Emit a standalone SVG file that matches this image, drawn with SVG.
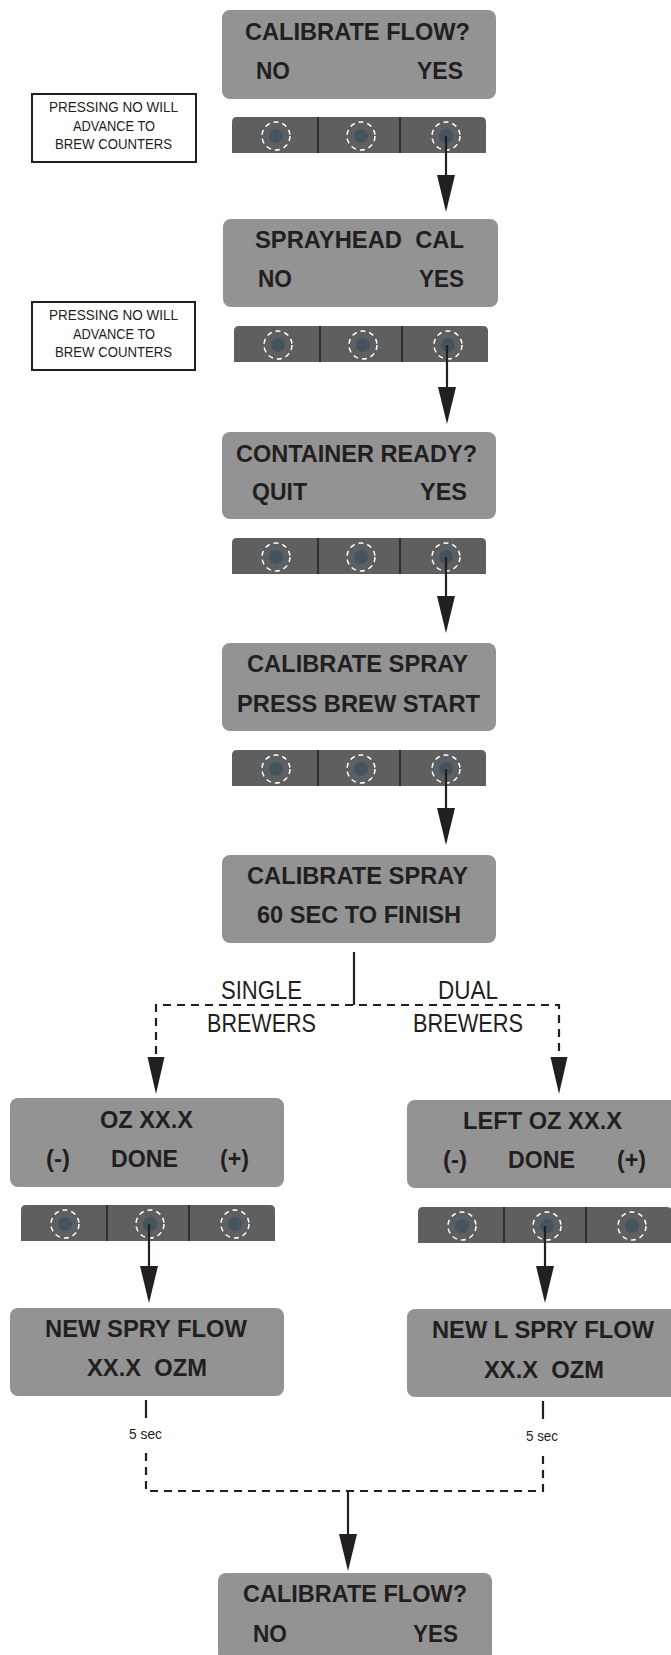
<svg xmlns="http://www.w3.org/2000/svg" width="671" height="1655" viewBox="0 0 671 1655">
<style>
.box{fill:#939393;}
.bar{fill:#5e5f61;}
.div{stroke:#1e1e1e;stroke-width:1.5;}
.ring{fill:none;stroke:#ffffff;stroke-width:1.5;stroke-dasharray:5 4;}
.dot{fill:#44545f;}
.t{font-family:"Liberation Sans",Arial,sans-serif;font-weight:bold;font-size:23px;fill:#231f20;white-space:pre;}
.c{font-family:"Liberation Sans",Arial,sans-serif;font-size:15px;fill:#231f20;}
.lbl{font-family:"Liberation Sans",Arial,sans-serif;font-size:26px;fill:#231f20;}
.note{fill:#ffffff;stroke:#231f20;stroke-width:2;}
.ln{fill:none;stroke:#231f20;stroke-width:2.2;}
.dash{fill:none;stroke:#231f20;stroke-width:2.2;stroke-dasharray:8 6;}
</style>
<defs>
<marker id="ah" markerUnits="userSpaceOnUse" markerWidth="38" markerHeight="18" refX="33" refY="9" orient="auto" viewBox="0 0 38 18">
<path d="M0,0 L37,9 L0,18 Z" fill="#231f20"/>
</marker>
<marker id="ahs" markerUnits="userSpaceOnUse" markerWidth="38" markerHeight="18" refX="33" refY="8.5" orient="auto" viewBox="0 0 38 17">
<path d="M0,0 L37,8.5 L0,17 Z" fill="#231f20"/>
</marker>
<g id="buttons">
<path class="bar" d="M0,5 Q0,0 5,0 L249,0 Q254,0 254,5 L254,36 L0,36 Z"/>
<line class="div" x1="86" y1="0" x2="86" y2="36"/>
<line class="div" x1="168" y1="0" x2="168" y2="36"/>
<circle class="dot" cx="44" cy="19" r="7"/>
<circle class="ring" cx="44" cy="19" r="14"/>
<circle class="dot" cx="129" cy="19" r="7"/>
<circle class="ring" cx="129" cy="19" r="14"/>
<circle class="dot" cx="214" cy="19" r="7"/>
<circle class="ring" cx="214" cy="19" r="14"/>
</g>
</defs>

<g id="note1">
<rect class="note" x="32" y="94" width="164" height="68"/>
<text class="c" x="49" y="112" textLength="129" lengthAdjust="spacingAndGlyphs">PRESSING NO WILL</text>
<text class="c" x="73" y="131" textLength="82" lengthAdjust="spacingAndGlyphs">ADVANCE TO</text>
<text class="c" x="55" y="149" textLength="117" lengthAdjust="spacingAndGlyphs">BREW COUNTERS</text>
</g>
<g id="note2">
<rect class="note" x="32" y="302" width="163" height="68"/>
<text class="c" x="49" y="320" textLength="129" lengthAdjust="spacingAndGlyphs">PRESSING NO WILL</text>
<text class="c" x="73" y="339" textLength="82" lengthAdjust="spacingAndGlyphs">ADVANCE TO</text>
<text class="c" x="55" y="357" textLength="117" lengthAdjust="spacingAndGlyphs">BREW COUNTERS</text>
</g>

<g id="screen1">
<rect class="box" x="222" y="10" width="274" height="89" rx="8"/>
<text class="t" x="245" y="40" textLength="225" lengthAdjust="spacingAndGlyphs">CALIBRATE FLOW?</text>
<text class="t" x="256" y="79" textLength="34" lengthAdjust="spacingAndGlyphs">NO</text>
<text class="t" x="417" y="79" textLength="46" lengthAdjust="spacingAndGlyphs">YES</text>
</g>
<g id="buttons1"><use href="#buttons" x="232" y="117"/></g>

<g id="screen2">
<rect class="box" x="223" y="219" width="275" height="88" rx="8"/>
<text class="t" x="255" y="248" textLength="209" lengthAdjust="spacingAndGlyphs" xml:space="preserve">SPRAYHEAD  CAL</text>
<text class="t" x="258" y="287" textLength="34" lengthAdjust="spacingAndGlyphs">NO</text>
<text class="t" x="419" y="287" textLength="45" lengthAdjust="spacingAndGlyphs">YES</text>
</g>
<g id="buttons2"><use href="#buttons" x="234" y="326"/></g>

<g id="screen3">
<rect class="box" x="222" y="432" width="274" height="87" rx="8"/>
<text class="t" x="236" y="462" textLength="241" lengthAdjust="spacingAndGlyphs">CONTAINER READY?</text>
<text class="t" x="252" y="500" textLength="55" lengthAdjust="spacingAndGlyphs">QUIT</text>
<text class="t" x="420" y="500" textLength="47" lengthAdjust="spacingAndGlyphs">YES</text>
</g>
<g id="buttons3"><use href="#buttons" x="232" y="538"/></g>

<g id="screen4">
<rect class="box" x="222" y="643" width="274" height="88" rx="8"/>
<text class="t" x="247" y="672" textLength="221" lengthAdjust="spacingAndGlyphs">CALIBRATE SPRAY</text>
<text class="t" x="237" y="712" textLength="243" lengthAdjust="spacingAndGlyphs">PRESS BREW START</text>
</g>
<g id="buttons4"><use href="#buttons" x="232" y="750"/></g>

<g id="screen5">
<rect class="box" x="222" y="855" width="274" height="88" rx="8"/>
<text class="t" x="247" y="884" textLength="221" lengthAdjust="spacingAndGlyphs">CALIBRATE SPRAY</text>
<text class="t" x="257" y="923" textLength="204" lengthAdjust="spacingAndGlyphs">60 SEC TO FINISH</text>
</g>

<g id="labels">
<text class="lbl" x="221" y="999" textLength="81" lengthAdjust="spacingAndGlyphs">SINGLE</text>
<text class="lbl" x="207" y="1032" textLength="109" lengthAdjust="spacingAndGlyphs">BREWERS</text>
<text class="lbl" x="438" y="999" textLength="60" lengthAdjust="spacingAndGlyphs">DUAL</text>
<text class="lbl" x="413" y="1032" textLength="110" lengthAdjust="spacingAndGlyphs">BREWERS</text>
</g>

<g id="screenL1">
<rect class="box" x="10" y="1098" width="274" height="89" rx="8"/>
<text class="t" x="100" y="1128" textLength="93" lengthAdjust="spacingAndGlyphs">OZ XX.X</text>
<text class="t" x="46" y="1167" textLength="24" lengthAdjust="spacingAndGlyphs">(-)</text>
<text class="t" x="111" y="1167" textLength="67" lengthAdjust="spacingAndGlyphs">DONE</text>
<text class="t" x="220" y="1167" textLength="29" lengthAdjust="spacingAndGlyphs">(+)</text>
</g>
<g id="buttonsL"><use href="#buttons" x="21" y="1205"/></g>

<g id="screenR1">
<rect class="box" x="407" y="1100" width="274" height="88" rx="8"/>
<text class="t" x="463" y="1129" textLength="159" lengthAdjust="spacingAndGlyphs">LEFT OZ XX.X</text>
<text class="t" x="443" y="1168" textLength="24" lengthAdjust="spacingAndGlyphs">(-)</text>
<text class="t" x="508" y="1168" textLength="67" lengthAdjust="spacingAndGlyphs">DONE</text>
<text class="t" x="617" y="1168" textLength="29" lengthAdjust="spacingAndGlyphs">(+)</text>
</g>
<g id="buttonsR"><use href="#buttons" x="418" y="1207"/></g>

<g id="screenL2">
<rect class="box" x="10" y="1308" width="274" height="88" rx="8"/>
<text class="t" x="45" y="1337" textLength="202" lengthAdjust="spacingAndGlyphs">NEW SPRY FLOW</text>
<text class="t" x="87" y="1376" textLength="120" lengthAdjust="spacingAndGlyphs" xml:space="preserve">XX.X  OZM</text>
</g>
<g id="screenR2">
<rect class="box" x="407" y="1309" width="274" height="88" rx="8"/>
<text class="t" x="432" y="1338" textLength="222" lengthAdjust="spacingAndGlyphs">NEW L SPRY FLOW</text>
<text class="t" x="484" y="1378" textLength="120" lengthAdjust="spacingAndGlyphs" xml:space="preserve">XX.X  OZM</text>
</g>

<g id="timers">
<text class="c" x="129" y="1439" textLength="33" lengthAdjust="spacingAndGlyphs">5 sec</text>
<text class="c" x="526" y="1441" textLength="32" lengthAdjust="spacingAndGlyphs">5 sec</text>
</g>

<g id="screen6">
<rect class="box" x="218" y="1573" width="274" height="88" rx="8"/>
<text class="t" x="243" y="1602" textLength="224" lengthAdjust="spacingAndGlyphs">CALIBRATE FLOW?</text>
<text class="t" x="253" y="1642" textLength="34" lengthAdjust="spacingAndGlyphs">NO</text>
<text class="t" x="413" y="1642" textLength="45" lengthAdjust="spacingAndGlyphs">YES</text>
</g>

<g id="connectors">
<line class="ln" x1="446" y1="136" x2="446" y2="208" marker-end="url(#ah)"/>
<line class="ln" x1="447" y1="345" x2="447" y2="420" marker-end="url(#ah)"/>
<line class="ln" x1="446" y1="557" x2="446" y2="629" marker-end="url(#ah)"/>
<line class="ln" x1="446" y1="769" x2="446" y2="841" marker-end="url(#ah)"/>
<polyline class="ln" points="354,952 354,1005"/>
<polyline class="dash" points="156,1054 156,1005 559,1005 559,1054"/>
<line class="ln" x1="156" y1="1054" x2="156" y2="1090" stroke-opacity="0" marker-end="url(#ahs)"/>
<line class="ln" x1="559" y1="1054" x2="559" y2="1090" stroke-opacity="0" marker-end="url(#ahs)"/>
<line class="ln" x1="149" y1="1224" x2="149" y2="1299" marker-end="url(#ah)"/>
<line class="ln" x1="545" y1="1226" x2="545" y2="1299" marker-end="url(#ah)"/>
<line class="ln" x1="146" y1="1400" x2="146" y2="1418"/>
<line class="ln" x1="543" y1="1401" x2="543" y2="1419"/>
<polyline class="dash" points="146,1453 146,1491 543,1491 543,1455"/>
<line class="ln" x1="348" y1="1491" x2="348" y2="1567" marker-end="url(#ah)"/>
</g>
</svg>
